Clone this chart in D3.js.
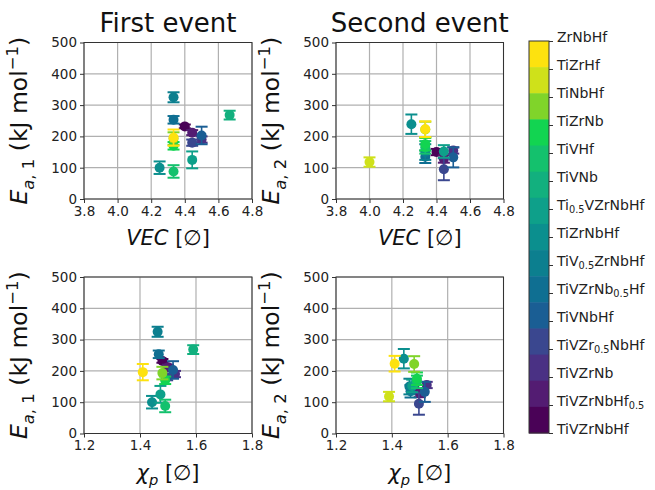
<!DOCTYPE html>
<html><head><meta charset="utf-8">
<script src="https://cdn.jsdelivr.net/npm/d3@7"></script>
<style>
html,body{margin:0;padding:0;background:#fff;}
svg{display:block;font-family:"DejaVu Sans",sans-serif;}
</style></head>
<body><svg id="chart" width="655" height="490"></svg>
<script>
// ---- data (top of colorbar to bottom) ----
const alloys = ["ZrNbHf","TiZrHf","TiNbHf","TiZrNb","TiVHf","TiVNb","Ti_{0.5}VZrNbHf","TiZrNbHf","TiV_{0.5}ZrNbHf","TiVZrNb_{0.5}Hf","TiVNbHf","TiVZr_{0.5}NbHf","TiVZrNb","TiVZrNbHf_{0.5}","TiVZrNbHf"];
const colors = ["#fde20f","#cfe11a","#80d42a","#12d451","#14c16d","#12b07e","#0ea08a","#0b8f8e","#0c7f8f","#0f6f92","#1a5e94","#3a478f","#4a3184","#531c72","#4a0257"];
const vec  = [4.333,4.0,4.333,4.333,4.333,4.667,4.444,4.25,4.333,4.333,4.5,4.444,4.5,4.444,4.4];
const chi  = [1.410,1.390,1.480,1.490,1.490,1.590,1.473,1.443,1.463,1.467,1.518,1.497,1.525,1.500,1.480];
const ea1    = [196,null,193,170,88,268,125,100,325,253,203,180,190,212,232];
const ea1Err = [26,null,20,12,20,14,27,20,16,12,28,10,10,8,6];
const ea2    = [223,118,222,175,165,null,152,239,150,135,133,95,155,128,150];
const ea2Err = [25,15,25,20,20,null,20,31,25,20,32,35,10,12,10];
const vecTicks = [3.8,4.0,4.2,4.4,4.6,4.8];
const chiTicks = [1.2,1.4,1.6,1.8];
const eaTicks  = [0,100,200,300,400,500];

const svg = d3.select("#chart");

function rich(sel, parts, size){
  let shift = 0;
  parts.forEach(p=>{
    const ts = sel.append("tspan").text(p.t);
    let target = 0, fs = size;
    if(p.sub){ target = size*0.28; fs = size*0.7; }
    if(p.sup){ target = -size*0.38; fs = size*0.7; }
    ts.attr("dy", target - shift).attr("font-size", fs);
    if(p.it) ts.attr("font-style","italic");
    shift = target;
  });
}
function parseSub(s){
  const parts=[]; const re=/_\{([^}]*)\}/g; let last=0,m;
  while((m=re.exec(s))){ if(m.index>last) parts.push({t:s.slice(last,m.index)}); parts.push({t:m[1],sub:true}); last=re.lastIndex; }
  if(last<s.length) parts.push({t:s.slice(last)});
  return parts;
}

const panels = [
  {x0:84, x1:252, y0:42.5, y1:199, xs:vec, xd:[3.8,4.8], xt:vecTicks, ys:ea1, ye:ea1Err, title:"First event", xl:"vec", yl:"1"},
  {x0:336, x1:503.5, y0:42.5, y1:199, xs:vec, xd:[3.8,4.8], xt:vecTicks, ys:ea2, ye:ea2Err, title:"Second event", xl:"vec", yl:"2"},
  {x0:84, x1:252, y0:277, y1:433.5, xs:chi, xd:[1.2,1.8], xt:chiTicks, ys:ea1, ye:ea1Err, xl:"chi", yl:"1"},
  {x0:336, x1:503.5, y0:277, y1:433.5, xs:chi, xd:[1.2,1.8], xt:chiTicks, ys:ea2, ye:ea2Err, xl:"chi", yl:"2"}
];

panels.forEach(P=>{
  const x = d3.scaleLinear().domain(P.xd).range([P.x0,P.x1]);
  const y = d3.scaleLinear().domain([0,500]).range([P.y1,P.y0]);
  const g = svg.append("g");
  g.selectAll(".gx").data(P.xt).join("line").attr("x1",d=>x(d)).attr("x2",d=>x(d)).attr("y1",P.y0).attr("y2",P.y1).attr("stroke","#b0b0b0").attr("stroke-width",1.2);
  g.selectAll(".gy").data(eaTicks).join("line").attr("y1",d=>y(d)).attr("y2",d=>y(d)).attr("x1",P.x0).attr("x2",P.x1).attr("stroke","#b0b0b0").attr("stroke-width",1.2);
  const ax = g.append("g").attr("transform",`translate(0,${P.y1})`).call(d3.axisBottom(x).tickValues(P.xt).tickFormat(d3.format(".1f")).tickSize(4).tickPadding(3));
  const ay = g.append("g").attr("transform",`translate(${P.x0},0)`).call(d3.axisLeft(y).tickValues(eaTicks).tickSize(4).tickPadding(3));
  [ax,ay].forEach(a=>{a.select(".domain").remove(); a.selectAll("line").attr("stroke","#333"); a.selectAll("text").attr("font-size",13.5).attr("fill","#222").attr("font-family","DejaVu Sans");});
  g.append("rect").attr("x",P.x0).attr("y",P.y0).attr("width",P.x1-P.x0).attr("height",P.y1-P.y0).attr("fill","none").attr("stroke","#333").attr("stroke-width",1);
  const idx = d3.range(alloys.length).reverse().filter(i=>P.ys[i]!=null);
  const pts = g.selectAll(".pt").data(idx).join("g");
  pts.append("line").attr("x1",i=>x(P.xs[i])).attr("x2",i=>x(P.xs[i])).attr("y1",i=>y(P.ys[i]-P.ye[i])).attr("y2",i=>y(P.ys[i]+P.ye[i])).attr("stroke",i=>colors[i]).attr("stroke-width",1.6);
  [-1,1].forEach(s=>{
    pts.append("line").attr("x1",i=>x(P.xs[i])-6).attr("x2",i=>x(P.xs[i])+6).attr("y1",i=>y(P.ys[i]+s*P.ye[i])).attr("y2",i=>y(P.ys[i]+s*P.ye[i])).attr("stroke",i=>colors[i]).attr("stroke-width",2);
  });
  pts.append("circle").attr("cx",i=>x(P.xs[i])).attr("cy",i=>y(P.ys[i])).attr("r",5).attr("fill",i=>colors[i]);
  if(P.title) svg.append("text").attr("x",(P.x0+P.x1)/2).attr("y",32).attr("text-anchor","middle").attr("font-size",26).attr("fill","#111").text(P.title);
  const xt = svg.append("text").attr("x",(P.x0+P.x1)/2).attr("y",P.y1+46).attr("text-anchor","middle").attr("font-size",21).attr("fill","#111");
  if(P.xl==="vec") rich(xt,[{t:"VEC",it:true},{t:" [∅]"}],21);
  else rich(xt,[{t:"χ",it:true},{t:"p",it:true,sub:true},{t:" [∅]"}],21);
  const cx = P.x0-57, cy=(P.y0+P.y1)/2;
  const yt = svg.append("text").attr("transform",`translate(${cx},${cy}) rotate(-90)`).attr("text-anchor","middle").attr("font-size",23.5).attr("fill","#111");
  rich(yt,[{t:"E",it:true},{t:"a",it:true,sub:true},{t:", "+P.yl,sub:true},{t:" (kJ mol"},{t:"−1",sup:true},{t:")"}],23.5);
});

const cb = {x0:529, x1:549, y0:41, y1:433};
const band = d3.scaleBand().domain(d3.range(alloys.length)).range([cb.y0,cb.y1]);
svg.append("g").selectAll("rect").data(d3.range(alloys.length)).join("rect")
  .attr("x",cb.x0).attr("width",cb.x1-cb.x0).attr("y",i=>band(i)).attr("height",band.bandwidth()+0.5).attr("fill",i=>colors[i]);
svg.append("rect").attr("x",cb.x0).attr("y",cb.y0).attr("width",cb.x1-cb.x0).attr("height",cb.y1-cb.y0).attr("fill","none").attr("stroke","#333").attr("stroke-width",1);
const tk = d3.scaleLinear().domain([0,alloys.length-1]).range([cb.y0,cb.y1]);
const cbAxis = svg.append("g").attr("transform",`translate(${cb.x1},0)`).call(d3.axisRight(tk).tickValues(d3.range(alloys.length)).tickSize(4).tickPadding(4).tickFormat(""));
cbAxis.select(".domain").remove();
cbAxis.selectAll("line").attr("stroke","#333");
cbAxis.selectAll(".tick").each(function(i){
  const t = d3.select(this).append("text").attr("x",8).attr("dy","0.35em").attr("font-size",14).attr("fill","#222").attr("font-family","DejaVu Sans");
  rich(t, parseSub(alloys[i]), 14);
});
</script></body></html>
